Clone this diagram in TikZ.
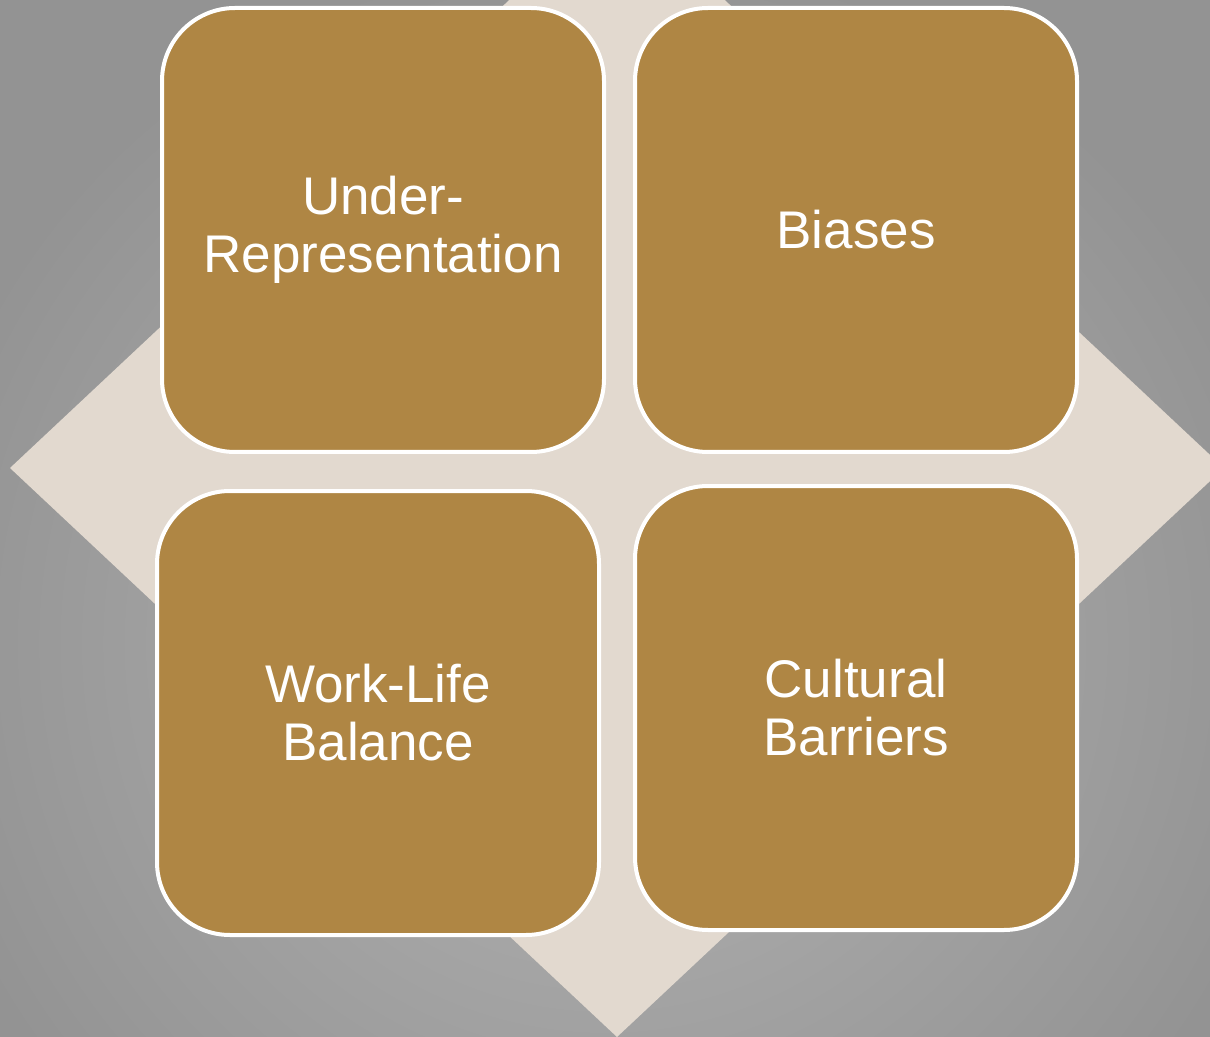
\documentclass[tikz,border=0pt]{standalone}
\usepackage{fontspec}
\setmainfont{Liberation Sans}
\usepackage{tikz}
\definecolor{bgdark}{HTML}{939393}
\definecolor{bglight}{HTML}{B4B4B4}
\definecolor{rhomb}{HTML}{E2D9CF}
\definecolor{tile}{HTML}{AF8644}
\tikzset{
         tilebox/.style={rectangle, rounded corners=36.5pt, draw=white, line width=2pt,
                         fill=tile, text=white, align=center,
                         minimum width=221pt, minimum height=222pt,
                         font=\fontsize{26.5}{29}\selectfont},
}

\begin{document}
\begin{tikzpicture}[x=0.5pt, y=-0.5pt]
    \useasboundingbox (0,0) rectangle (1210,1037);

    % Hintergrund
    \shade[inner color=bglight, outer color=bgdark] (-100,-50) rectangle (1310,1337);
    \clip (0,0) rectangle (1210,1037);
    \fill[rhomb] (10,468) -- (617,-101) -- (1224,468) -- (617,1037) -- cycle;

    % Kacheln
    \node[tilebox] (under) at (383,230) {Under-\\Representation};
    \node[tilebox] (bias)  at (856,230) {Biases};
    \node[tilebox] (work)  at (378,713) {Work-Life\\Balance};
    \node[tilebox] (cult)  at (856,708) {Cultural\\Barriers};
\end{tikzpicture}
\end{document}
